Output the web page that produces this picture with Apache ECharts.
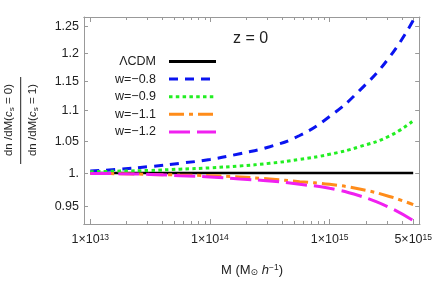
<!DOCTYPE html>
<html><head><meta charset="utf-8">
<script src="https://cdn.jsdelivr.net/npm/echarts@6/dist/echarts.min.js"></script>
<style>html,body{margin:0;padding:0;background:#fff}#c{width:435px;height:282px}</style>
</head><body><div id="c"></div>
<script>
// ---- data ----
const masses = [1e13, 1.778e13, 3.162e13, 5.623e13, 1e14, 1.778e14, 3.162e14, 5.623e14, 1e15, 1.778e15, 3.162e15, 5e15];
const lcdm  = [1, 1, 1, 1, 1, 1, 1, 1, 1, 1, 1, 1];
const w08   = [1.003, 1.006, 1.010, 1.015, 1.021, 1.030, 1.041, 1.059, 1.090, 1.134, 1.193, 1.262];
const w09   = [1.002, 1.003, 1.004, 1.006, 1.008, 1.011, 1.015, 1.021, 1.029, 1.041, 1.058, 1.083];
const w11   = [0.9995, 0.999, 0.998, 0.997, 0.996, 0.994, 0.991, 0.987, 0.983, 0.976, 0.965, 0.953];
const w12   = [0.9995, 0.999, 0.998, 0.996, 0.994, 0.991, 0.988, 0.983, 0.977, 0.966, 0.949, 0.930];
const seriesNames = ['\u039BCDM', 'w=\u22120.8', 'w=\u22120.9', 'w=\u22121.1', 'w=\u22121.2'];
const xMajorTicks = [1e13, 1e14, 1e15, 5e15];
const xMajorLabels = ['1\u00D710{s|13}', '1\u00D710{s|14}', '1\u00D710{s|15}', '5\u00D710{s|15}'];
const xMinorTicks = [2e13,3e13,4e13,5e13,6e13,7e13,8e13,9e13,2e14,3e14,4e14,5e14,6e14,7e14,8e14,9e14,2e15,3e15,4e15];
const yTicks = [0.95, 1, 1.05, 1.1, 1.15, 1.2, 1.25];
const yTickLabels = ['0.95', '1.', '1.05', '1.1', '1.15', '1.2', '1.25'];
const xRange = [8.86e12, 5.61e15];
const yRange = [0.9253, 1.2686];

// ---- chart ----
const chart = echarts.init(document.getElementById('c'), null, {renderer: 'canvas'});
const frame = '#999999';
const font = 'Liberation Sans, Arial, sans-serif';
const gridRect = {left: 84, right: 15, top: 17, bottom: 58};
function nearestLabel(v, ticks, labels) {
  let best = 0;
  for (let i = 1; i < ticks.length; i++) if (Math.abs(ticks[i] - v) < Math.abs(ticks[best] - v)) best = i;
  return labels[best];
}
function xAx(grid, pos, ticks, len, withLabels) {
  return {
    type: 'log', gridIndex: grid, position: pos, min: xRange[0], max: xRange[1],
    axisLine: {show: true, lineStyle: {color: frame, width: 1}},
    axisTick: {show: true, inside: true, length: len, customValues: ticks, lineStyle: {color: frame, width: 1}},
    axisLabel: {show: withLabels, customValues: ticks, margin: 9, color: '#222', fontFamily: font, fontSize: 12.5,
      formatter: v => nearestLabel(v, xMajorTicks, xMajorLabels),
      rich: {s: {fontSize: 8.5, verticalAlign: 'top', lineHeight: 13, fontFamily: font, color: '#222'}}},
    splitLine: {show: false}, minorTick: {show: false}
  };
}
function yAx(grid, pos, show, withLabels) {
  return {
    type: 'log', gridIndex: grid, position: pos, min: yRange[0], max: yRange[1],
    axisLine: {show: show, lineStyle: {color: frame, width: 1}},
    axisTick: {show: show, inside: true, length: 4, customValues: yTicks, lineStyle: {color: frame, width: 1}},
    axisLabel: {show: withLabels, customValues: yTicks, margin: 5, color: '#222', fontFamily: font, fontSize: 12.5,
      formatter: v => nearestLabel(v, yTicks, yTickLabels)},
    splitLine: {show: false}
  };
}
const styles = [
  {color: '#000000', type: 'solid', width: 2.6},
  {color: '#0a14f0', type: [9, 7], width: 3},
  {color: '#22ee22', type: [3.5, 3.3], width: 3},
  {color: '#ff8c1a', type: [15, 5, 4, 5], width: 3},
  {color: '#f020f0', type: [21, 7], width: 3}
];
const dataSets = [lcdm, w08, w09, w11, w12];
const series = dataSets.map((d, i) => ({
  name: seriesNames[i], type: 'line', xAxisIndex: 0, yAxisIndex: 0,
  data: masses.map((m, j) => [m, d[j]]), smooth: true, showSymbol: false, symbol: 'none',
  lineStyle: styles[i], itemStyle: {color: styles[i].color}, z: i === 0 ? 2 : 3, animation: false
}));

chart.setOption({
  animation: false,
  grid: [Object.assign({}, gridRect), Object.assign({}, gridRect)],
  xAxis: [
    xAx(0, 'bottom', xMajorTicks, 5, true),
    xAx(0, 'top', xMajorTicks, 5, false),
    xAx(1, 'bottom', xMinorTicks, 3, false),
    xAx(1, 'top', xMinorTicks, 3, false)
  ],
  yAxis: [
    yAx(0, 'left', true, true),
    yAx(0, 'right', true, false),
    yAx(1, 'left', false, false),
    yAx(1, 'right', false, false)
  ],
  legend: {
    orient: 'vertical', left: 110, top: 50, align: 'right',
    itemWidth: 47, itemHeight: 14, itemGap: 4.6,
    data: seriesNames,
    itemStyle: {opacity: 0},
    lineStyle: {width: 3},
    textStyle: {fontFamily: font, fontSize: 12.5, color: '#222', width: 55, align: 'right', padding: [0, 8, 0, 0]}
  },
  series: series,
  graphic: [
    {type: 'text', left: 233, top: 31, style: {text: 'z = 0', font: '16px ' + font, fill: '#222'}},
    {type: 'text', x: 9, y: 120, rotation: Math.PI / 2,
      style: {text: 'dn /dM({i|c}{b|s} = 0)', align: 'center', verticalAlign: 'middle', font: '11.5px ' + font, fill: '#222',
        rich: {i: {fontStyle: 'italic', fontSize: 11.5, fontFamily: font, fill: '#222'}, b: {fontSize: 8, verticalAlign: 'bottom', fontFamily: font, fill: '#222', lineHeight: 13}}}},
    {type: 'line', shape: {x1: 20.7, y1: 77, x2: 20.7, y2: 164}, style: {stroke: '#222', lineWidth: 1}},
    {type: 'text', x: 33, y: 120, rotation: Math.PI / 2,
      style: {text: 'dn /dM({i|c}{b|s} = 1)', align: 'center', verticalAlign: 'middle', font: '11.5px ' + font, fill: '#222',
        rich: {i: {fontStyle: 'italic', fontSize: 11.5, fontFamily: font, fill: '#222'}, b: {fontSize: 8, verticalAlign: 'bottom', fontFamily: font, fill: '#222', lineHeight: 13}}}},
    {type: 'text', x: 252, y: 270,
      style: {text: 'M (M{b|\u2299} {i|h}{p|\u22121})', align: 'center', verticalAlign: 'middle', font: '13px ' + font, fill: '#222',
        rich: {i: {fontStyle: 'italic', fontSize: 13, fontFamily: font, fill: '#222'},
               b: {fontSize: 9, verticalAlign: 'bottom', fontFamily: 'DejaVu Sans', fill: '#222', lineHeight: 14},
               p: {fontSize: 8.5, verticalAlign: 'top', fontFamily: font, fill: '#222', lineHeight: 14}}}}
  ]
});
</script></body></html>
